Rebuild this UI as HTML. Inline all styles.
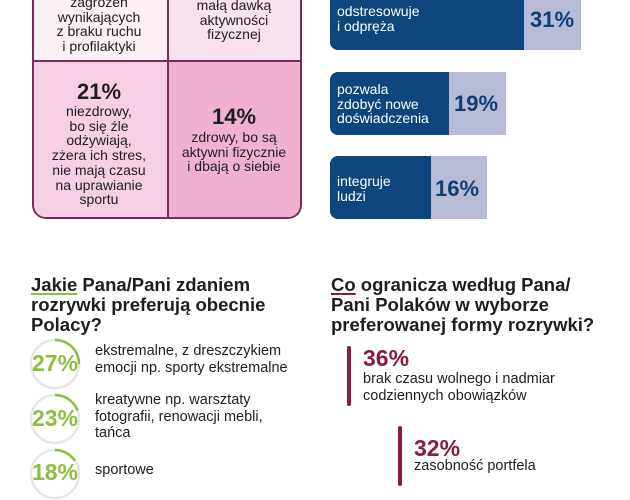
<!DOCTYPE html>
<html><head><meta charset="utf-8"><style>
*{margin:0;padding:0;box-sizing:border-box}
body{width:630px;height:500px;background:#fff;position:relative;overflow:hidden;font-family:"Liberation Sans","DejaVu Sans",sans-serif;color:#1e1e1e}
.a{position:absolute}
.c{text-align:center}
.t{font-size:14px;line-height:14.7px}
.b{font-weight:bold}
.h{font-size:18.5px;line-height:20px;font-weight:bold;color:#1e1e1e}
.wt{color:#fff;font-size:14px;line-height:14.6px}
.pc{font-weight:bold;font-size:22px;color:#0d3f72}
.u{text-decoration:underline;text-decoration-thickness:2px;text-underline-offset:2px}
</style></head><body>
<div class="a" style="left:32px;top:-20px;width:270px;height:239px;border:2px solid #7a2a5a;border-top:none;border-radius:0 0 14px 14px;overflow:hidden">
 <div class="a" style="left:0;top:0;width:133px;height:80px;background:#fcf0f6"></div>
 <div class="a" style="left:135px;top:0;width:133px;height:80px;background:#f9e2ef"></div>
 <div class="a" style="left:0;top:82px;width:133px;height:155px;background:#f7cfe4"></div>
 <div class="a" style="left:135px;top:82px;width:133px;height:155px;background:#f0b1d1"></div>
 <div class="a" style="left:133px;top:0;width:2px;height:239px;background:#7a2a5a"></div>
 <div class="a" style="left:0;top:80px;width:268px;height:2px;background:#7a2a5a"></div>
</div>
<div class="a c t" style="left:32px;top:-5px;width:134px">zagrożeń<br>wynikających<br>z braku ruchu<br>i profilaktyki</div>
<div class="a c t" style="left:167px;top:-2px;width:134px">małą dawką<br>aktywności<br>fizycznej</div>
<div class="a c b" style="left:32px;top:79px;width:134px;font-size:22px">21%</div>
<div class="a c t" style="left:32px;top:104px;width:134px">niezdrowy,<br>bo się źle<br>odżywiają,<br>zżera ich stres,<br>nie mają czasu<br>na uprawianie<br>sportu</div>
<div class="a c b" style="left:167px;top:104px;width:134px;font-size:22px">14%</div>
<div class="a c t" style="left:167px;top:130px;width:134px">zdrowy, bo są<br>aktywni fizycznie<br>i dbają o siebie</div>
<div class="a" style="left:330px;top:-10px;width:251px;height:60px;background:#b8bbd6;border-radius:0 0 0 8px;overflow:hidden"><div style="width:194px;height:100%;background:#0d467c"></div></div>
<div class="a wt" style="left:337px;top:4px">odstresowuje<br>i odpręża</div>
<div class="a pc" style="left:530px;top:7px">31%</div>
<div class="a" style="left:330px;top:72px;width:176px;height:63px;background:#b8bbd6;border-radius:8px 0 0 8px;overflow:hidden"><div style="width:119px;height:100%;background:#0d467c"></div></div>
<div class="a wt" style="left:337px;top:82px">pozwala<br>zdobyć nowe<br>doświadczenia</div>
<div class="a pc" style="left:454px;top:91px">19%</div>
<div class="a" style="left:330px;top:156px;width:157px;height:63px;background:#b8bbd6;border-radius:8px 0 0 8px;overflow:hidden"><div style="width:101px;height:100%;background:#0d467c"></div></div>
<div class="a wt" style="left:337px;top:174px">integruje<br>ludzi</div>
<div class="a pc" style="left:435px;top:176px">16%</div>
<div class="a h" style="left:31px;top:275px"><span class="u" style="text-decoration-color:#8bbf3f">Jakie</span> Pana/Pani zdaniem<br>rozrywki preferują obecnie<br>Polacy?</div>
<svg class="a" style="left:0;top:0" width="630" height="500">
 <g fill="none" stroke-width="2.5">
  <circle cx="55" cy="364" r="24" stroke="#e6e6e6"/>
  <path d="M55 340 A24 24 0 0 1 79 364" stroke="#8bbf3f"/>
  <circle cx="55" cy="419" r="24" stroke="#e6e6e6"/>
  <path d="M55 395 A24 24 0 0 1 77.5 410.5" stroke="#8bbf3f"/>
  <circle cx="55" cy="474" r="24" stroke="#e6e6e6"/>
  <path d="M55 450 A24 24 0 0 1 75 461" stroke="#8bbf3f"/>
 </g>
</svg>
<div class="a b c" style="left:25px;top:350px;width:60px;font-size:23px;color:#8bbf3f">27%</div>
<div class="a b c" style="left:25px;top:405px;width:60px;font-size:23px;color:#8bbf3f">23%</div>
<div class="a b c" style="left:25px;top:459px;width:60px;font-size:23px;color:#8bbf3f">18%</div>
<div class="a" style="left:95px;top:343px;font-size:14.5px;line-height:17px">ekstremalne, z dreszczykiem<br>emocji np. sporty ekstremalne</div>
<div class="a" style="left:95px;top:392px;font-size:14.5px;line-height:16.5px">kreatywne np. warsztaty<br>fotografii, renowacji mebli,<br>tańca</div>
<div class="a" style="left:95px;top:462px;font-size:14.5px">sportowe</div>
<div class="a h" style="left:331px;top:275px"><span class="u" style="text-decoration-color:#8a1a45">Co</span> ogranicza według Pana/<br>Pani Polaków w wyborze<br>preferowanej formy rozrywki?</div>
<div class="a" style="left:347px;top:346px;width:4px;height:60px;background:#8a1a45;border-radius:2px"></div>
<div class="a b" style="left:363px;top:345px;font-size:23px;color:#8a1a45">36%</div>
<div class="a" style="left:363px;top:371px;font-size:14.5px;line-height:17px">brak czasu wolnego i nadmiar<br>codziennych obowiązków</div>
<div class="a" style="left:398px;top:426px;width:4px;height:60px;background:#8a1a45;border-radius:2px"></div>
<div class="a b" style="left:414px;top:435px;font-size:23px;color:#8a1a45">32%</div>
<div class="a" style="left:414px;top:458px;font-size:14.5px">zasobność portfela</div>
</body></html>
